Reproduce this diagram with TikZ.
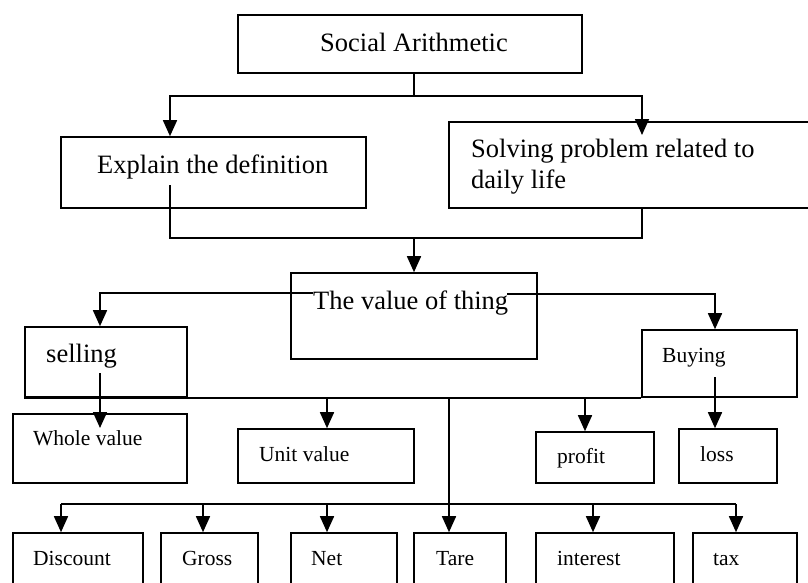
\documentclass[tikz,border=0pt]{standalone}
\usepackage{fontspec}
\setmainfont{Liberation Serif}
\usetikzlibrary{arrows.meta,fit}

\tikzset{
  box/.style={draw, line width=1.6pt, inner sep=0pt},
  big/.style={font=\fontsize{26.5}{32}\selectfont, inner sep=0pt},
  small/.style={font=\fontsize{21.5}{26}\selectfont, inner sep=0pt},
  link/.style={line width=1.6pt},
  arr/.style={line width=1.6pt, -{Triangle[length=16pt,width=14pt]}}
}

\begin{document}
\begin{tikzpicture}[x=1pt,y=-1pt]
\useasboundingbox (0,0) rectangle (808,582);

% Top part
\node[box, fit={(238,15)(582,73)}] (soc) {};
\node[big, anchor=base] (socT) at (414,51) {Social Arithmetic};
\node[box, fit={(61,137)(366,208)}] (expl) {};
\node[big, anchor=base west] (explT) at (97,173) {Explain the definition};
\node[box, fit={(449,122)(830,208)}] (solv) {};
\node[big, anchor=base west] (solvTa) at (471,157) {Solving problem related to};
\node[big, anchor=base west] (solvTb) at (471,188) {daily life};

\coordinate (topJ) at (414,96);
\coordinate (explIn) at (170,185);
\coordinate (solvIn) at (642,135);
\draw[link] (topJ |- soc.south) -- (topJ);
\draw[arr] (topJ) -| (explIn |- expl.north);
\draw[arr] (topJ) -| (solvIn);

% Middle box
\node[box, fit={(291,273)(537,359)}] (val) {};
\node[big, anchor=base west] (valT) at (313,309) {The value of thing};

\coordinate (midJ) at (414,238);
\draw[link] (explIn) |- (midJ);
\draw[link] (solvIn |- solv.south) |- (midJ);
\draw[arr] (midJ) -- (val.north);

% Selling and buying
\node[box, fit={(25,327)(187,397)}] (sell) {};
\node[big, anchor=base west] (sellT) at (46,362) {selling};
\node[box, fit={(642,330)(797,397)}] (buy) {};
\node[small, anchor=base west] (buyT) at (662,362) {Buying};

\coordinate (valL) at (313,293);
\coordinate (valR) at (507,294);
\coordinate (sellIn) at (100,373);
\coordinate (buyIn) at (715,377);
\draw[arr] (valL) -| (sellIn |- sell.north);
\draw[arr] (valR) -| (buyIn |- buy.north);

% Second row
\node[box, fit={(13,414)(187,483)}] (whole) {};
\node[small, anchor=base west] (wholeT) at (33,445) {Whole value};
\node[box, fit={(238,429)(414,483)}] (unit) {};
\node[small, anchor=base west] (unitT) at (259,461) {Unit value};
\node[box, fit={(536,432)(654,483)}] (profit) {};
\node[small, anchor=base west] (profitT) at (557,463) {profit};
\node[box, fit={(679,429)(777,483)}] (loss) {};
\node[small, anchor=base west] (lossT) at (700,461) {loss};

\coordinate (wholeTip) at (100,428);
\coordinate (unitJ) at (327,397);
\coordinate (profJ) at (585,397);
\coordinate (centJ) at (449,397);
\draw[link] (sell.south west) -- (buy.south west);
\draw[arr] (sellIn) -- (wholeTip);
\draw[arr] (unitJ) -- (unitJ |- unit.north);
\draw[arr] (profJ) -- (profJ |- profit.north);
\draw[arr] (buyIn) -- (buyIn |- loss.north);

% Bottom row
\foreach \nm/\xa/\xb/\tx/\lab in {disc/13/143/33/Discount, gross/161/258/182/Gross,
    net/291/397/311/Net, tare/414/506/436/Tare, inter/536/674/557/interest, tax/693/797/713/tax} {
  \node[box, fit={(\xa,533)(\xb,600)}] (\nm) {};
  \node[small, anchor=base west] (\nm T) at (\tx,565) {\lab};
}

\coordinate (botL) at (61,504);
\coordinate (botR) at (736,504);
\draw[link] (botL) -- (botR);
\draw[arr] (centJ) -- (centJ |- tare.north);
\foreach \bx/\nm in {61/disc, 203/gross, 327/net, 593/inter, 736/tax} {
  \coordinate (b\nm) at (\bx,504);
  \draw[arr] (b\nm) -- (b\nm |- \nm.north);
}
\end{tikzpicture}
\end{document}
